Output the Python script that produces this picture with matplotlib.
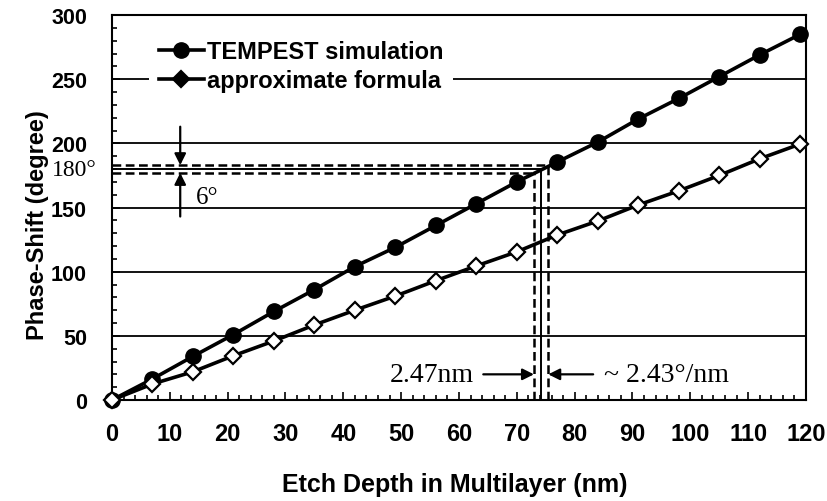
import numpy as np
import matplotlib.pyplot as plt
from matplotlib.ticker import MultipleLocator

# etch depth (nm) and phase shift (degree)
depth = [0, 7, 14, 21, 28, 35, 42, 49, 56, 63, 70, 77, 84, 91, 98, 105, 112, 119]
tempest = [0, 16.4, 34, 51, 69, 86, 104, 119, 136, 153, 170, 185.5, 201, 219, 235, 252, 269, 285]
formula = [0, 12.5, 22, 34.5, 46, 58.5, 70, 81, 93, 104.5, 115.5, 128.6, 139.5, 152, 163, 175, 188, 199.5]

# 180 degree crossing and tolerance window
phase_target = 180
phase_tol = 6          # degree
slope = 2.43           # degree / nm
depth_target = 74.2
depth_tol = 2.47       # nm

sans = ['Liberation Sans', 'DejaVu Sans']
serif = ['Liberation Serif', 'DejaVu Serif']

fig = plt.figure(figsize=(8.27, 5.02), dpi=100)
ax = fig.add_axes([0.1354, 0.2012, 0.8392, 0.7668])

ax.plot(depth, tempest, '-o', color='k', lw=2.6, ms=11, label='TEMPEST simulation',
        zorder=5, clip_on=False)
ax.plot(depth, formula, '-D', color='k', lw=2.6, ms=8, mfc='white', mec='k', mew=1.6,
        label='approximate formula', zorder=5, clip_on=False)

ax.set_xlim(0, 120)
ax.set_ylim(0, 300)
ax.xaxis.set_major_locator(MultipleLocator(10))
ax.xaxis.set_minor_locator(MultipleLocator(2))
ax.yaxis.set_major_locator(MultipleLocator(50))
ax.yaxis.set_minor_locator(MultipleLocator(10))
ax.yaxis.grid(True, color='k', lw=1.3)
ax.set_axisbelow(True)

ax.tick_params(axis='x', which='major', direction='in', length=6, width=1.2, pad=16)
ax.tick_params(axis='x', which='minor', direction='in', length=3.5, width=1.2)
ax.tick_params(axis='y', which='major', direction='in', length=6, width=1.2, pad=18)
ax.tick_params(axis='y', which='minor', direction='in', length=3.5, width=1.2)
for lab in ax.get_xticklabels():
    lab.set_fontfamily(sans)
    lab.set_fontweight('bold')
    lab.set_fontsize(17)
for lab in ax.get_yticklabels():
    lab.set_fontfamily(sans)
    lab.set_fontweight('bold')
    lab.set_fontsize(15.5)
for sp in ax.spines.values():
    sp.set_linewidth(1.5)

ax.set_xlabel('Etch Depth in Multilayer (nm)', family=sans, weight='bold', fontsize=18, va='center')
ax.set_ylabel('Phase-Shift (degree)', family=sans, weight='bold', fontsize=17, va='center')
ax.xaxis.set_label_coords(0.494, -0.218)
ax.yaxis.set_label_coords(-0.108, 0.457)

# 180 degree reference and +/- 3 degree window
lo_x = depth_target - depth_tol / 2
hi_x = depth_target + depth_tol / 2
lo_y = phase_target - phase_tol / 2
hi_y = phase_target + phase_tol / 2
dash = dict(color='k', lw=1.8, ls=(0, (3.5, 1.8)), zorder=3)
ax.plot([0, depth_target], [phase_target, phase_target], color='k', lw=1.4, zorder=3)
ax.plot([depth_target, depth_target], [0, phase_target], color='k', lw=1.4, zorder=3)
ax.plot([0, hi_x], [hi_y, hi_y], **dash)
ax.plot([0, lo_x], [lo_y, lo_y], **dash)
ax.plot([lo_x, lo_x], [0, lo_y], **dash)
ax.plot([hi_x, hi_x], [0, hi_y], **dash)

arrow = dict(arrowstyle='-|>', color='k', lw=1.6, mutation_scale=17, shrinkA=0, shrinkB=0)
ax.annotate('', xy=(11.8, hi_y), xytext=(11.8, 213), arrowprops=arrow)
ax.annotate('', xy=(11.8, lo_y), xytext=(11.8, 143), arrowprops=arrow)
ax.text(14.5, 158, '%d°' % phase_tol, family=serif, fontsize=18, ha='left', va='center')
ax.text(-2.6, phase_target, '%d°' % phase_target, family=serif, fontsize=17,
        ha='right', va='center', clip_on=False)

ax.annotate('', xy=(lo_x, 20), xytext=(64.2, 20), arrowprops=arrow)
ax.annotate('', xy=(hi_x, 20), xytext=(83.2, 20), arrowprops=arrow)
ax.text(62.5, 20, '%.2fnm' % depth_tol, family=serif, fontsize=20, ha='right', va='center')
ax.text(85.0, 20, '~ %.2f°/nm' % slope, family=serif, fontsize=20, ha='left', va='center')

leg = ax.legend(loc='upper left', bbox_to_anchor=(0.037, 0.99), frameon=True, fancybox=False,
                edgecolor='none', facecolor='white', framealpha=1,
                prop={'family': sans, 'weight': 'bold', 'size': 17},
                handlelength=1.9, handletextpad=0.15, labelspacing=0.25, borderpad=0.4)
leg.legend_handles[1].set_markerfacecolor('k')

fig.savefig('out.png', dpi=100)
